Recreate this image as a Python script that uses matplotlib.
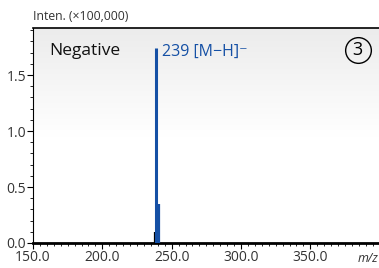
import matplotlib.pyplot as plt
import numpy as np
from matplotlib.colors import LinearSegmentedColormap

plt.rcParams['font.family'] = ['Open Sans', 'DejaVu Sans']

# peaks (m/z, intensity x100,000)
mz = [238.0, 239.0, 240.9]
inten = [0.10, 1.74, 0.35]
colors = ['black', '#1550a5', '#1550a5']
xticks = [150.0, 200.0, 250.0, 300.0, 350.0]
yticks = [0.0, 0.5, 1.0, 1.5]

fig = plt.figure(figsize=(3.79, 2.68), dpi=100)
ax = fig.add_axes([33 / 379, 25 / 268, 346 / 379, 215 / 268])
ax.set_xlim(150, 399.5)
ax.set_ylim(0, 1.92)

# soft grey gradient background
grad = np.linspace(0, 1, 100).reshape(-1, 1)
cm = LinearSegmentedColormap.from_list('g', ['white', 'white', '#ececec'])
ax.imshow(grad, extent=[150, 399.5, 0, 1.92], aspect='auto', origin='lower', cmap=cm, zorder=0)

for m, h, c in zip(mz, inten, colors):
    ax.vlines(m, 0, h, color=c, lw=2.2 if h > 1 else 1.6, zorder=3)

ax.set_xticks(xticks)
ax.set_xticklabels([f'{t:.1f}' for t in xticks])
ax.set_xticks(np.arange(150, 400, 5), minor=True)
ax.set_yticks(yticks)
ax.set_yticklabels([f'{t:.1f}' for t in yticks])
ax.set_yticks(np.arange(0, 1.92, 0.1), minor=True)
ax.tick_params(which='major', length=4, width=0.8, labelsize=10, pad=1, color='black', labelcolor='#333333')
ax.tick_params(which='minor', length=2.5, width=0.6)
ax.spines['right'].set_visible(False)
ax.spines['bottom'].set_linewidth(2)
ax.spines['left'].set_linewidth(0.8)
ax.spines['top'].set_linewidth(1.2)

ax.text(0.047, 0.893, 'Negative', transform=ax.transAxes, fontsize=12.5, fontweight='medium',
        color='#111111', va='center')
ax.text(242.8, 1.71, '239 [M\u2212H]\u207b', color='#1550a5', fontsize=11.5, va='center')
ax.plot([0.938], [0.9], transform=ax.transAxes, marker='o', ms=18.5, mfc='none', mec='black', mew=1, clip_on=False)
ax.text(0.938, 0.897, '3', transform=ax.transAxes, fontsize=13, ha='center', va='center')

fig.text(33 / 379, 1 - 17 / 268, 'Inten. (\u00d7100,000)', fontsize=8.8, va='center', ha='left', color='#333333')
fig.text(368 / 379, 1 - 258 / 268, 'm/z', fontsize=9, style='italic', va='center', ha='center', color='#333333')

fig.savefig('out.png', dpi=100)
